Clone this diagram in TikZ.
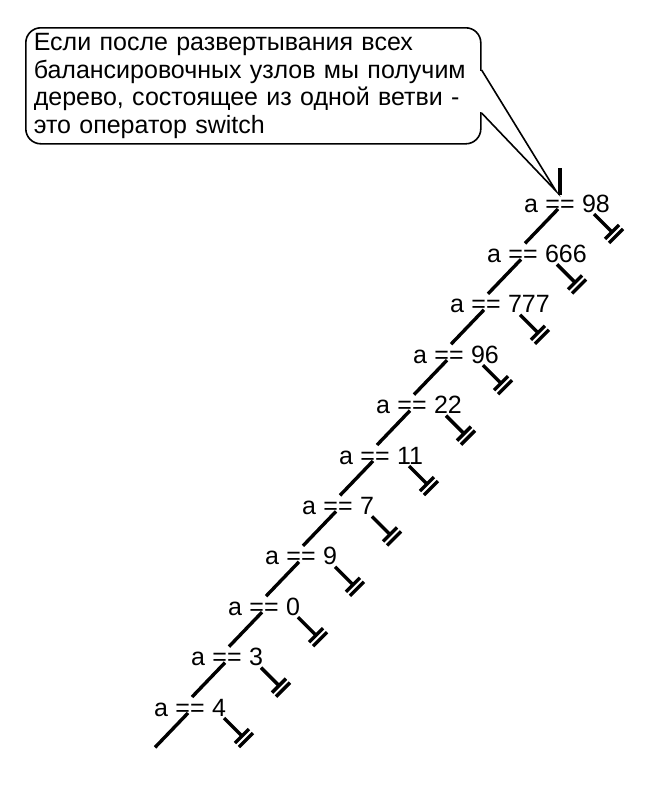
\documentclass[tikz,border=0pt]{standalone}
\usepackage{fontspec}
\setmainfont{Liberation Sans}
\usetikzlibrary{positioning}
\tikzset{
  branch/.style={line width=3.4pt},
  lbl/.style={inner sep=0pt, font=\fontsize{25}{27}\selectfont},
  callout/.style={draw, line width=1.6pt, rounded corners=15pt, align=left,
    text width=439pt, inner xsep=8pt, minimum height=116pt,
    font=\fontsize{25}{27.5}\selectfont}
}
\begin{document}
\begin{tikzpicture}[x=1pt,y=-1pt]
    \useasboundingbox (0,0) rectangle (651,785);

    % Callout
    \node[callout, anchor=north west] (note) at (25,27)
      {Если после развертывания всех\\
       балансировочных узлов мы получим\\
       дерево, состоящее из одной ветви -\\
       это оператор switch};
    \coordinate (tip) at (556,191);
    \fill[white] ([shift={(-2,44)}]note.north east) rectangle ([shift={(2,85)}]note.north east);
    \draw[line width=1.6pt, line join=miter] ([shift={(0,43)}]note.north east) -- (tip) -- ([shift={(0,86)}]note.north east);

    % Conditions
    \foreach \v [count=\i from 0] in {98,666,777,96,22,11,7,9,0,3,4} {
      \coordinate (j\i) at ({560-37*\i},{203+50.4*\i});
      \node[lbl, anchor=base] (e\i) at ([shift={(0,9)}]j\i) {==};
      \node[lbl, anchor=base east] (a\i) at ([xshift=-7pt]e\i.base west) {a};
      \node[lbl, anchor=base west] (n\i) at ([xshift=7pt]e\i.base east) {\v};
    }
    \coordinate (j11) at ({560-37*11},{203+50.4*11});

    % Root
    \coordinate (root) at (560,168);
    \draw[branch] (root) -- ([shift={(0,-8)}]j0);

    % Else branches
    \foreach \i [evaluate=\i as \k using int(\i+1)] in {0,...,10}
      \draw[branch] ([shift={(-2,6)}]j\i) -- ([shift={(2,-10)}]j\k);

    % Case branches with terminators
    \foreach \i in {0,...,10} {
      \coordinate (s\i) at ([shift={(34,11)}]j\i);
      \coordinate (g\i) at ([shift={(52,29)}]j\i);
      \draw[branch] (s\i) -- (g\i);
      \draw[branch] ([shift={(-7,7)}]g\i) -- ([shift={(7,-7)}]g\i);
      \draw[branch] ([shift={(-3,11)}]g\i) -- ([shift={(11,-3)}]g\i);
    }
\end{tikzpicture}
\end{document}
